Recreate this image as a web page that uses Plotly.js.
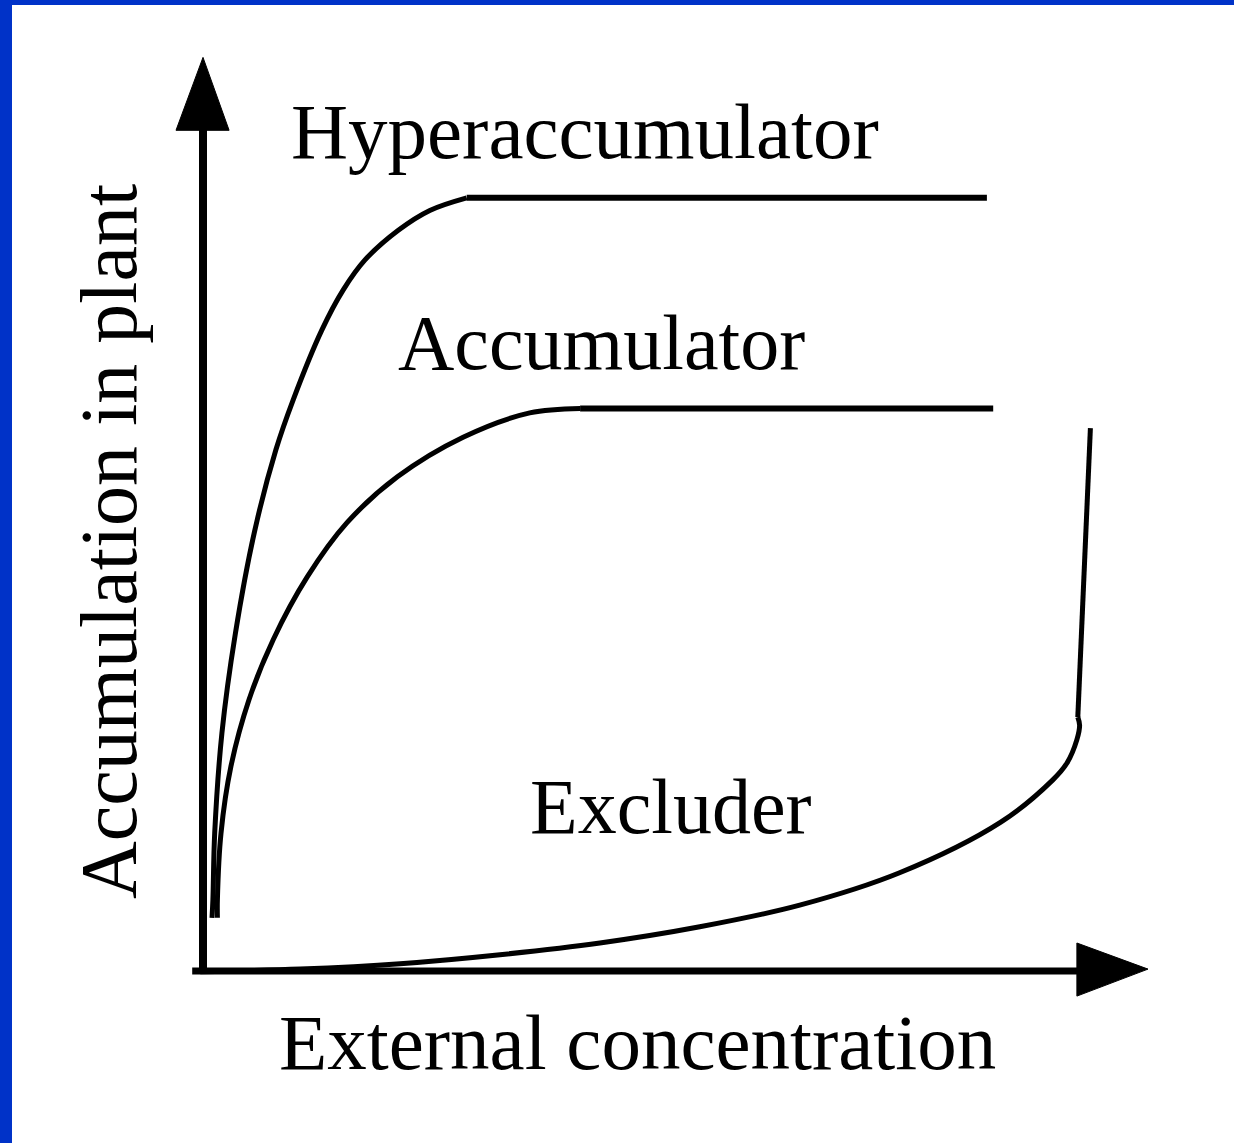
<!DOCTYPE html>
<html>
<head>
<meta charset="utf-8">
<script src="https://cdn.plot.ly/plotly-3.0.1.min.js"></script>
<style>html,body{margin:0;padding:0;background:#fff;}#chart{width:1234px;height:1143px;}</style>
</head>
<body>
<div id="chart"></div>
<script>
// Hyperaccumulator: steep rise then plateau
var hyperX = [1.0, 1.1, 1.3, 2.1, 3.6, 5.7, 8.1, 10.0, 13.2, 15.6, 18.0, 21.7, 25.2, 29.3];
var hyperY = [5.8, 7.8, 15.2, 26.3, 37.4, 48.6, 57.8, 63.3, 71.1, 75.6, 78.9, 82.2, 84.4, 85.8];
var hyperPlateauX = [29.3, 87.1];
var hyperPlateauY = [85.8, 85.8];

// Accumulator: gentler rise then plateau
var accX = [1.6, 1.6, 2.0, 3.1, 5.1, 7.8, 11.6, 16.0, 21.6, 28.9, 36.3, 41.9];
var accY = [5.8, 7.8, 15.2, 22.6, 30.0, 36.7, 43.7, 49.7, 54.8, 59.2, 61.9, 62.4];
var accPlateauX = [41.9, 87.8];
var accPlateauY = [62.4, 62.4];

// Excluder: slow rise then sharp increase
var exclX = [-0.3, 10.8, 21.9, 33.0, 44.1, 55.2, 66.3, 77.4, 88.6, 94.4, 96.0, 97.1, 97.4, 97.2];
var exclY = [-0.2, 0.1, 0.7, 1.7, 3.0, 4.8, 7.2, 10.8, 16.4, 21.1, 23.0, 25.6, 27.2, 28.1];
var exclJumpX = [97.2, 98.6];
var exclJumpY = [28.1, 60.2];

var labels = ["Hyperaccumulator", "Accumulator", "Excluder"];
var xTitle = "External concentration";
var yTitle = "Accumulation in plant";

var FONT = "Liberation Serif, Times New Roman, serif";

function tr(x, y, w, shape) {
  return {x: x, y: y, mode: "lines", type: "scatter", hoverinfo: "skip",
    line: {color: "#000", width: w, shape: shape || "linear", smoothing: 1}};
}

var data = [
  tr(hyperX, hyperY, 5, "spline"),
  tr(hyperPlateauX, hyperPlateauY, 6),
  tr(accX, accY, 5, "spline"),
  tr(accPlateauX, accPlateauY, 6),
  tr(exclX, exclY, 5, "spline"),
  tr(exclJumpX, exclJumpY, 5)
];

var layout = {
  width: 1234, height: 1143,
  margin: {l: 12, r: 0, t: 5, b: 0, pad: 0},
  paper_bgcolor: "#0032C8",
  plot_bgcolor: "#ffffff",
  showlegend: false,
  xaxis: {range: [-21.222, 114.556], visible: false, fixedrange: true},
  yaxis: {range: [-19.222, 107.222], visible: false, fixedrange: true},
  shapes: [
    {type: "line", x0: 0, y0: -0.2, x1: 0, y1: 93.5, line: {color: "#000", width: 8}},
    {type: "line", x0: -1.2, y0: -0.1, x1: 97.3, y1: -0.1, line: {color: "#000", width: 7}},
    {type: "path", path: "M -3 93.3 L 0 101.4 L 2.9 93.3 Z", fillcolor: "#000", line: {color: "#000", width: 1}},
    {type: "path", path: "M 97.1 3.0 L 105 0.1 L 97.1 -2.9 Z", fillcolor: "#000", line: {color: "#000", width: 1}}
  ],
  annotations: [
    {text: labels[0], x: 42.4, y: 93.2, xref: "x", yref: "y", showarrow: false, xanchor: "center", yanchor: "middle", font: {family: FONT, size: 79, color: "#000"}},
    {text: labels[1], x: 44.3, y: 69.7, xref: "x", yref: "y", showarrow: false, xanchor: "center", yanchor: "middle", font: {family: FONT, size: 78, color: "#000"}},
    {text: labels[2], x: 52.0, y: 18.2, xref: "x", yref: "y", showarrow: false, xanchor: "center", yanchor: "middle", font: {family: FONT, size: 78, color: "#000"}},
    {text: xTitle, x: 48.3, y: -8.1, xref: "x", yref: "y", showarrow: false, xanchor: "center", yanchor: "middle", font: {family: FONT, size: 79, color: "#000"}},
    {text: yTitle, x: -10.5, y: 47.6, xref: "x", yref: "y", showarrow: false, textangle: -90, xanchor: "center", yanchor: "middle", font: {family: FONT, size: 80, color: "#000"}}
  ]
};

Plotly.newPlot("chart", data, layout, {displayModeBar: false, staticPlot: true});
</script>
</body>
</html>
